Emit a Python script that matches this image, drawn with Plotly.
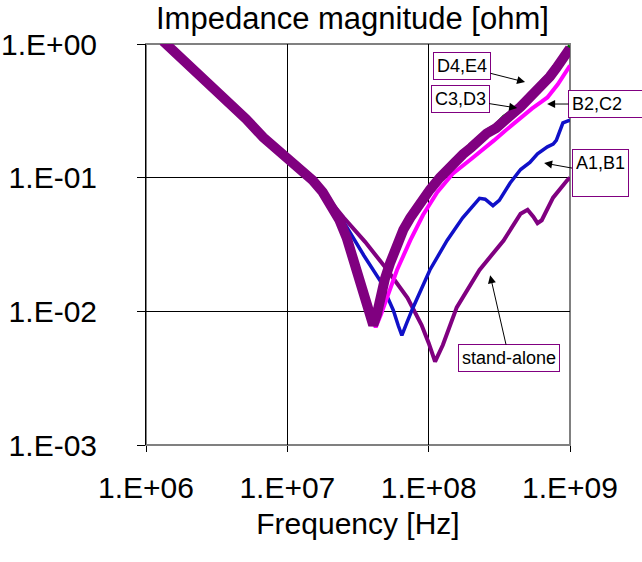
import plotly.graph_objects as go

# ---------------- data (frequency in Hz, impedance in ohm) ----------------
# shared low-frequency (capacitive) part
f_low = [1.32e6, 1.7e6, 2.24e6, 3.0e6, 3.89e6, 5.1e6, 6.76e6, 8.5e6, 9.77e6, 1.25e7, 1.51e7]
z_low = [1.05, 0.82, 0.646, 0.48, 0.363, 0.275, 0.200, 0.162, 0.145, 0.115, 0.0955]

# D4,E4 (thick purple)
f_d4 = f_low + [1.78e7, 2.0e7, 2.34e7, 2.63e7, 2.95e7, 3.24e7, 3.55e7, 3.85e7, 4.05e7, 4.3e7, 4.53e7,
                4.9e7, 5.33e7, 5.9e7, 6.61e7, 7.4e7, 8.28e7, 1.02e8, 1.2e8, 1.48e8, 1.75e8, 2.0e8,
                2.29e8, 2.57e8, 3.0e8, 3.4e8, 3.9e8, 4.47e8, 5.4e8, 6.46e8, 7.2e8, 8.0e8, 9.55e8, 1.0e9]
z_d4 = z_low + [0.078, 0.0646, 0.048, 0.0355, 0.024, 0.0170, 0.0118, 0.0091, 0.0079, 0.0095, 0.0126,
                0.0175, 0.0229, 0.031, 0.0407, 0.050, 0.0603, 0.0813, 0.100, 0.129, 0.150, 0.168,
                0.192, 0.214, 0.235, 0.27, 0.30, 0.339, 0.41, 0.513, 0.57, 0.66, 0.851, 0.93]

# C3,D3 (green, mostly hidden under D4,E4)
f_c3 = f_d4
z_c3 = z_low + [0.078, 0.0646, 0.048, 0.0355, 0.024, 0.0170, 0.0118, 0.0091, 0.0080, 0.0095, 0.0126,
                0.0175, 0.0229, 0.031, 0.0410, 0.051, 0.0615, 0.0835, 0.104, 0.134, 0.157, 0.176,
                0.200, 0.225, 0.248, 0.285, 0.315, 0.355, 0.43, 0.54, 0.60, 0.70, 0.90, 0.97]

# B2,C2 (magenta)
f_b2 = f_low + [1.78e7, 2.0e7, 2.63e7, 3.1e7, 3.47e7, 3.98e7, 4.22e7, 4.6e7, 5.08e7, 5.97e7, 7.41e7,
                9.12e7, 1.15e8, 1.48e8, 2.0e8, 2.57e8, 2.9e8, 3.4e8, 4.47e8, 5.4e8, 6.3e8, 6.92e8,
                8.2e8, 9.55e8, 1.0e9]
z_b2 = z_low + [0.078, 0.0646, 0.0355, 0.021, 0.0141, 0.0092, 0.0076, 0.0095, 0.0127, 0.0204, 0.0339,
                0.0525, 0.078, 0.107, 0.138, 0.170, 0.19, 0.220, 0.282, 0.33, 0.37, 0.398,
                0.50, 0.63, 0.69]

# A1,B1 (blue)
f_a1 = f_low + [1.78e7, 1.9e7, 2.63e7, 3.47e7, 4.53e7, 5.62e7, 6.1e7, 6.46e7, 7.0e7, 7.76e7, 1.02e8,
                1.35e8, 1.74e8, 2.05e8, 2.29e8, 2.51e8, 2.85e8, 3.16e8, 3.77e8, 4.47e8, 5.2e8,
                5.89e8, 6.92e8, 7.6e8, 8.0e8, 8.91e8, 1.0e9]
z_a1 = z_low + [0.080, 0.0708, 0.0427, 0.0263, 0.0170, 0.0102, 0.0078, 0.0066, 0.0082, 0.0107, 0.0204,
                0.0339, 0.0501, 0.061, 0.070, 0.069, 0.0617, 0.0676, 0.0912, 0.115, 0.13,
                0.151, 0.170, 0.178, 0.19, 0.257, 0.27]

# stand-alone (thin purple)
f_sa = f_low + [1.78e7, 2.51e7, 3.55e7, 5.01e7, 7.08e7, 8.91e7, 1.0e8, 1.11e8, 1.26e8, 1.58e8,
                2.29e8, 3.39e8, 4.47e8, 5.01e8, 5.5e8, 5.89e8, 6.31e8, 7.59e8, 9.55e8, 1.0e9]
z_sa = z_low + [0.0780, 0.0501, 0.0331, 0.0209, 0.0126, 0.0079, 0.0058, 0.0042, 0.0056, 0.0107,
                0.0204, 0.0339, 0.0537, 0.0575, 0.051, 0.0457, 0.048, 0.0708, 0.0955, 0.10]

x_tickvals = [1e6, 1e7, 1e8, 1e9]
x_ticktext = ["1.E+06", "1.E+07", "1.E+08", "1.E+09"]
y_tickvals = [1e-3, 1e-2, 1e-1, 1e0]
y_ticktext = ["1.E-03", "1.E-02", "1.E-01", "1.E+00"]

PURPLE = "#800080"
FONT = "Liberation Sans, Arial, sans-serif"

fig = go.Figure()
fig.add_trace(go.Scatter(x=f_sa, y=z_sa, mode="lines", line=dict(color=PURPLE, width=4), name="stand-alone"))
fig.add_trace(go.Scatter(x=f_a1, y=z_a1, mode="lines", line=dict(color="#1010C8", width=3.5), name="A1,B1"))
fig.add_trace(go.Scatter(x=f_c3, y=z_c3, mode="lines", line=dict(color="#007000", width=4), name="C3,D3"))
fig.add_trace(go.Scatter(x=f_b2, y=z_b2, mode="lines", line=dict(color="#FF00FF", width=4), name="B2,C2"))
fig.add_trace(go.Scatter(x=f_d4, y=z_d4, mode="lines", line=dict(color=PURPLE, width=10), name="D4,E4"))

ann_style = dict(xref="x", yref="y", showarrow=True, arrowhead=2, arrowsize=1.6, arrowwidth=1,
                 arrowcolor="black", bordercolor=PURPLE, borderwidth=1, bgcolor="white",
                 borderpad=3, font=dict(family=FONT, size=18, color="black"))
annotations = [
    dict(text="D4,E4", x=8.682, y=-0.285, ax=-63, ay=-16, **ann_style),
    dict(text="C3,D3", x=8.626, y=-0.479, ax=-57, ay=-9, **ann_style),
    dict(text="B2,C2", x=8.838, y=-0.449, ax=62, ay=0, width=74, align="left", **ann_style),
    dict(text="A1,B1", x=8.817, y=-0.891, ax=56, ay=10, height=40, valign="top", **ann_style),
    dict(text="stand-alone", x=8.435, y=-1.730, ax=19, ay=83, **ann_style),
    dict(text="Impedance magnitude [ohm]", xref="paper", yref="paper", x=0.486, y=1,
         xanchor="center", yanchor="bottom", yshift=6, showarrow=False,
         font=dict(family=FONT, size=31, color="black")),
]

fig.update_layout(
    width=642, height=562,
    margin=dict(l=146, r=72, t=44, b=117),
    paper_bgcolor="white", plot_bgcolor="white",
    showlegend=False,
    font=dict(family=FONT, color="black"),
    annotations=annotations,
    shapes=[dict(type="rect", xref="paper", yref="paper", x0=0, y0=0, x1=1, y1=1,
                 line=dict(color="#808080", width=2), layer="below")],
)
fig.update_xaxes(type="log", range=[6, 9], tickvals=x_tickvals, ticktext=x_ticktext,
                 automargin=False,
                 showgrid=True, gridcolor="black", gridwidth=1,
                 ticks="outside", ticklen=6, tickcolor="black",
                 showline=False, zeroline=False,
                 tickfont=dict(family=FONT, size=30), ticklabelstandoff=10,
                 title=dict(text="Frequency [Hz]", font=dict(family=FONT, size=30), standoff=9))
fig.update_yaxes(type="log", range=[-3, 0], tickvals=y_tickvals, ticktext=y_ticktext,
                 automargin=False,
                 showgrid=True, gridcolor="black", gridwidth=1,
                 ticks="outside", ticklen=8, tickcolor="black",
                 showline=True, linecolor="black", linewidth=1, zeroline=False,
                 tickfont=dict(family=FONT, size=30), ticklabelstandoff=34)

fig.write_html("out.html")
